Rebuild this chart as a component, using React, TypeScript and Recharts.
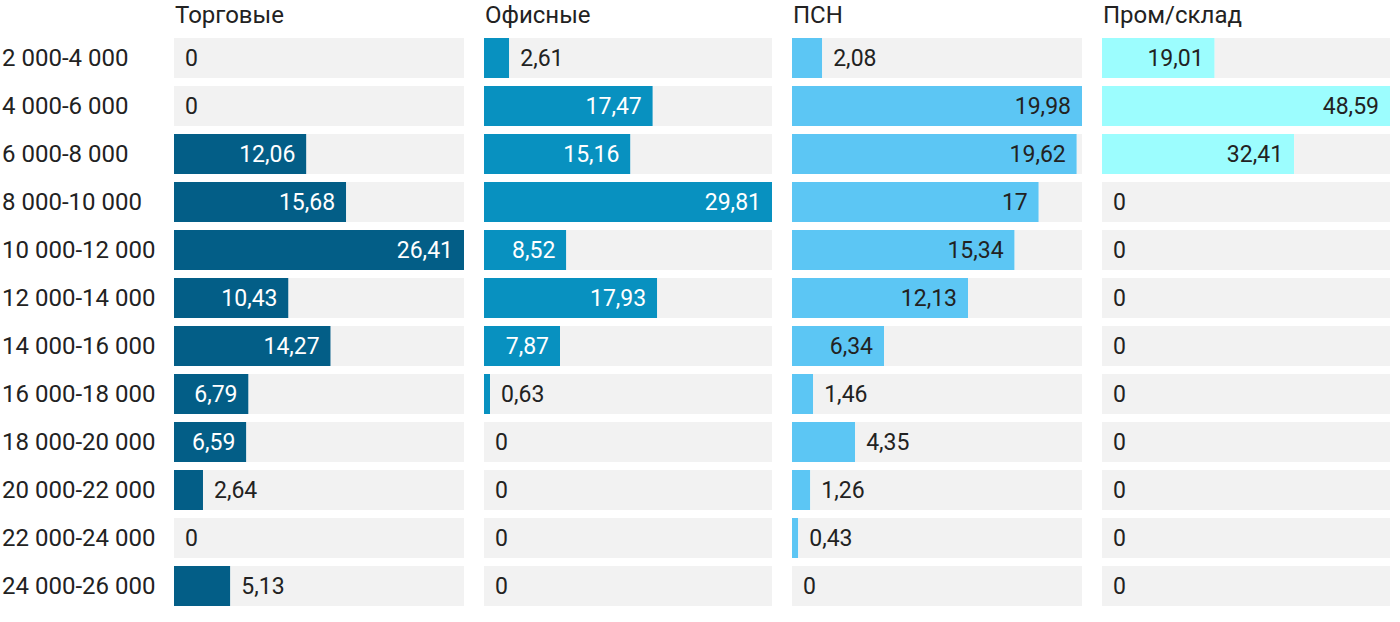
import { BarChart, Bar, XAxis, YAxis, LabelList } from 'recharts'

const categories = [
  '2 000-4 000',
  '4 000-6 000',
  '6 000-8 000',
  '8 000-10 000',
  '10 000-12 000',
  '12 000-14 000',
  '14 000-16 000',
  '16 000-18 000',
  '18 000-20 000',
  '20 000-22 000',
  '22 000-24 000',
  '24 000-26 000',
]

const trade      = [0, 0, 12.06, 15.68, 26.41, 10.43, 14.27, 6.79, 6.59, 2.64, 0, 5.13]
const office     = [2.61, 17.47, 15.16, 29.81, 8.52, 17.93, 7.87, 0.63, 0, 0, 0, 0]
const psn        = [2.08, 19.98, 19.62, 17, 15.34, 12.13, 6.34, 1.46, 4.35, 1.26, 0.43, 0]
const industrial = [19.01, 48.59, 32.41, 0, 0, 0, 0, 0, 0, 0, 0, 0]

const FONT = 'Roboto, "Noto Sans", sans-serif'
const VALUE_SIZE = 23
const TEXT_SIZE = 24
const DARK_TEXT = '#222'
const TRACK = '#f2f2f2'

const ROW_TOP = 34
const CHART_H = 576
const MIN_INSIDE = 68 // px a bar needs before its label goes inside

const fmt = (v: number) => String(v).replace('.', ',')

function RowTick({ y, payload }: any) {
  return (
    <text x={2} y={y} textAnchor="start" dominantBaseline="central"
      fill={DARK_TEXT} fontSize={TEXT_SIZE} fontFamily={FONT}>
      {payload.value}
    </text>
  )
}

interface PanelProps {
  title:       string
  values:      number[]
  color:       string
  insideColor: string
  left:        number
  width:       number
  withAxis?:   boolean
}

const AXIS_W = 174

function Panel({ title, values, color, insideColor, left, width, withAxis = false }: PanelProps) {
  const max = Math.max(...values)
  const data = categories.map((c, i) => ({ cat: c, v: values[i], rest: max - values[i] }))
  const isInside = (v: number) => (v / max) * width >= MIN_INSIDE

  const insideLabel = (props: any) => {
    const { x, y, width: w, height, value } = props
    const v = Number(value)
    if (!isInside(v)) return null
    return (
      <text x={Number(x) + Number(w) - 11} y={Number(y) + Number(height) / 2}
        textAnchor="end" dominantBaseline="central"
        fill={insideColor} fontSize={VALUE_SIZE} fontFamily={FONT}>
        {fmt(v)}
      </text>
    )
  }

  const outsideLabel = (props: any) => {
    const { x, y, height, value } = props
    const v = Number(value)
    if (isInside(v)) return null
    return (
      <text x={Number(x) + 11} y={Number(y) + Number(height) / 2}
        textAnchor="start" dominantBaseline="central"
        fill={DARK_TEXT} fontSize={VALUE_SIZE} fontFamily={FONT}>
        {fmt(v)}
      </text>
    )
  }

  const chartLeft = withAxis ? left - AXIS_W : left
  const chartW = withAxis ? width + AXIS_W : width
  return (
    <>
      <div
        style={{
          position: 'absolute',
          left: left + 1,
          top: 1,
          fontFamily: FONT,
          fontSize: TEXT_SIZE,
          color: DARK_TEXT,
          lineHeight: '28px',
        }}
      >
        {title}
      </div>
      <div style={{ position: 'absolute', left: chartLeft, top: ROW_TOP }}>
        <BarChart
          width={chartW}
          height={CHART_H}
          data={data}
          layout="vertical"
          margin={{ top: 0, right: 0, bottom: 0, left: 0 }}
          barSize={40}
        >
          <XAxis type="number" domain={[0, max]} hide />
          <YAxis
            type="category"
            dataKey="cat"
            hide={!withAxis}
            width={withAxis ? AXIS_W : 0}
            axisLine={false}
            tickLine={false}
            tick={<RowTick />}
            interval={0}
          />
          <Bar dataKey="v" stackId="s" fill={color} isAnimationActive={false}>
            <LabelList dataKey="v" content={insideLabel} />
          </Bar>
          <Bar dataKey="rest" stackId="s" fill={TRACK} isAnimationActive={false}>
            <LabelList dataKey="v" content={outsideLabel} />
          </Bar>
        </BarChart>
      </div>
    </>
  )
}

export default function App() {
  return (
    <div
      style={{
        position: 'absolute',
        left: 0,
        top: 0,
        width: 1400,
        height: 622,
        background: '#fff',
      }}
    >
      <Panel title="Торговые" values={trade} color="#035e87" insideColor="#fff" left={174} width={290} withAxis />
      <Panel title="Офисные" values={office} color="#0891c0" insideColor="#fff" left={484} width={288} />
      <Panel title="ПСН" values={psn} color="#5cc6f4" insideColor={DARK_TEXT} left={792} width={290} />
      <Panel title="Пром/склад" values={industrial} color="#9cfdfe" insideColor={DARK_TEXT} left={1102} width={288} />
    </div>
  )
}
